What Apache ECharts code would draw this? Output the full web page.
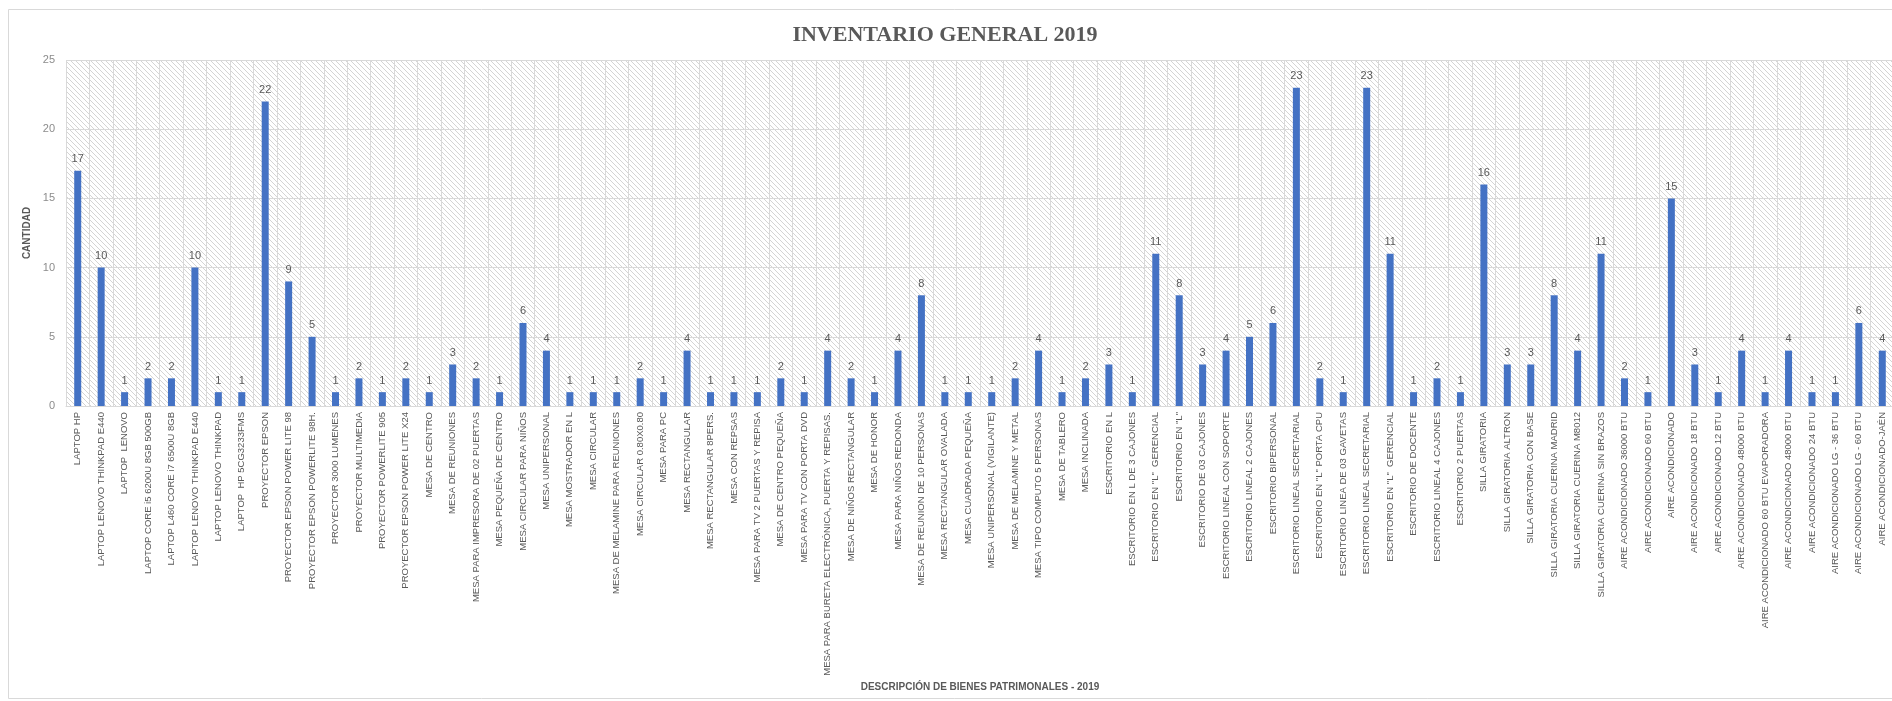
<!DOCTYPE html>
<html>
<head>
<meta charset="utf-8">
<script src="https://cdn.jsdelivr.net/npm/echarts@6/dist/echarts.min.js"></script>
<style>
  html, body { margin: 0; padding: 0; background: #ffffff; overflow: hidden; }
  #chart { width: 1900px; height: 701px; }
</style>
</head>
<body>
<div id="chart"></div>
<script>
const titleText = 'INVENTARIO GENERAL 2019';
const xAxisTitle = 'DESCRIPCIÓN DE BIENES PATRIMONALES - 2019';
const yAxisTitle = 'CANTIDAD';

const categories = [
  'LAPTOP HP',
  'LAPTOP LENOVO THINKPAD E440',
  'LAPTOP  LENOVO',
  'LAPTOP CORE i5 6200U 8GB 500GB',
  'LAPTOP L460 CORE i7 6500U 8GB',
  'LAPTOP LENOVO THINKPAD E440',
  'LAPTOP LENOVO THINKPAD',
  'LAPTOP  HP 5CG3233FMS',
  'PROYECTOR EPSON',
  'PROYECTOR EPSON POWER LITE 98',
  'PROYECTOR EPSON POWERLITE 98H.',
  'PROYECTOR 3000 LUMENES',
  'PROYECTOR MULTIMEDIA',
  'PROYECTOR POWERLITE 905',
  'PROYECTOR EPSON POWER LITE X24',
  'MESA DE CENTRO',
  'MESA DE REUNIONES',
  'MESA PARA IMPRESORA DE 02 PUERTAS',
  'MESA PEQUEÑA DE CENTRO',
  'MESA CIRCULAR PARA NIÑOS',
  'MESA UNIPERSONAL',
  'MESA MOSTRADOR EN L',
  'MESA CIRCULAR',
  'MESA DE MELAMINE PARA REUNIONES',
  'MESA CIRCULAR 0.80X0.80',
  'MESA PARA PC',
  'MESA RECTANGULAR',
  'MESA RECTANGULAR 8PERS.',
  'MESA CON REPSAS',
  'MESA PARA TV 2 PUERTAS Y REPISA',
  'MESA DE CENTRO PEQUEÑA',
  'MESA PARA TV CON PORTA DVD',
  'MESA PARA BURETA ELECTRÓNICA, PUERTA Y REPISAS.',
  'MESA DE NIÑOS RECTANGULAR',
  'MESA DE HONOR',
  'MESA PARA NIÑOS REDONDA',
  'MESA DE REUNION DE 10 PERSONAS',
  'MESA RECTANGULAR OVALADA',
  'MESA CUADRADA PEQUEÑA',
  'MESA UNIPERSONAL (VIGILANTE)',
  'MESA DE MELAMINE Y METAL',
  'MESA TIPO COMPUTO 5 PERSONAS',
  'MESA DE TABLERO',
  'MESA INCLINADA',
  'ESCRITORIO EN L',
  'ESCRITORIO EN L DE 3 CAJONES',
  'ESCRITORIO EN "L"  GERENCIAL',
  'ESCRITORIO EN "L"',
  'ESCRITORIO DE 03 CAJONES',
  'ESCRITORIO LINEAL CON SOPORTE',
  'ESCRITORIO LINEAL 2 CAJONES',
  'ESCRITORIO BIPERSONAL',
  'ESCRITORIO LINEAL SECRETARIAL',
  'ESCRITORIO EN "L" PORTA CPU',
  'ESCRITORIO LINEA DE 03 GAVETAS',
  'ESCRITORIO LINEAL SECRETARIAL',
  'ESCRITORIO EN "L"  GERENCIAL',
  'ESCRITORIO DE DOCENTE',
  'ESCRITORIO LINEAL 4 CAJONES',
  'ESCRITORIO 2 PUERTAS',
  'SILLA GIRATORIA',
  'SILLA GIRATORIA ALTRON',
  'SILLA GIRATORIA CON BASE',
  'SILLA GIRATORIA CUERINA MADRID',
  'SILLA GIRATORIA CUERINA M8012',
  'SILLA GIRATORIA CUERINA SIN BRAZOS',
  'AIRE ACONDICIONADO 36000 BTU',
  'AIRE ACONDICIONADO 60 BTU',
  'AIRE ACONDICIONADO',
  'AIRE ACONDICIONADO 18 BTU',
  'AIRE ACONDICIONADO 12 BTU',
  'AIRE ACONDICIONADO 48000 BTU',
  'AIRE ACONDICIONADO 60 BTU EVAPORADORA',
  'AIRE ACONDICIONADO 48000 BTU',
  'AIRE ACONDICIONADO 24 BTU',
  'AIRE ACONDICIONADO LG - 36 BTU',
  'AIRE ACONDICIONADO LG - 60 BTU',
  'AIRE ACONDICIONADO-JAÉN'
];

const cantidad = [
  17, 10, 1, 2, 2, 10, 1, 1, 22, 9,
  5, 1, 2, 1, 2, 1, 3, 2, 1, 6,
  4, 1, 1, 1, 2, 1, 4, 1, 1, 1,
  2, 1, 4, 2, 1, 4, 8, 1, 1, 1,
  2, 4, 1, 2, 3, 1, 11, 8, 3, 4,
  5, 6, 23, 2, 1, 23, 11, 1, 2, 1,
  16, 3, 3, 8, 4, 11, 2, 1, 15, 3,
  1, 4, 1, 4, 1, 1, 6, 4
];

const yTicks = [0, 5, 10, 15, 20, 25];

// hatched pattern for plot background
const pc = document.createElement('canvas');
pc.width = 5; pc.height = 5;
const pctx = pc.getContext('2d');
pctx.fillStyle = '#ffffff';
pctx.fillRect(0, 0, 5, 5);
pctx.strokeStyle = '#d4d4d4';
pctx.lineWidth = 1;
pctx.beginPath();
pctx.moveTo(-1, -1); pctx.lineTo(6, 6);
pctx.moveTo(-1, 4); pctx.lineTo(1, 6);
pctx.moveTo(4, -1); pctx.lineTo(6, 1);
pctx.stroke();

const chart = echarts.init(document.getElementById('chart'), null, { renderer: 'canvas' });
const labelFont = "'Liberation Sans', 'Open Sans', sans-serif";

chart.setOption({
  animation: false,
  backgroundColor: '#ffffff',
  title: {
    text: titleText,
    left: 940,
    textAlign: 'center',
    top: 19,
    textStyle: {
      fontFamily: "'Liberation Serif', serif",
      fontWeight: 'bold',
      fontSize: 22,
      color: '#595959'
    }
  },
  graphic: [{
    type: 'rect',
    shape: { x: 8.5, y: 9.5, width: 1900, height: 689 },
    style: { fill: 'none', stroke: '#d9d9d9', lineWidth: 1 },
    silent: true,
    z: -1
  }],
  grid: {
    left: 66,
    right: 6,
    top: 60,
    bottom: 295,
    show: true,
    borderWidth: 0,
    backgroundColor: { image: pc, repeat: 'repeat' }
  },
  xAxis: {
    type: 'category',
    data: categories,
    name: xAxisTitle,
    nameLocation: 'middle',
    nameGap: 276,
    nameTextStyle: {
      fontFamily: labelFont,
      fontWeight: 'bold',
      fontSize: 10,
      color: '#595959'
    },
    axisTick: { show: false },
    axisLine: { lineStyle: { color: '#d9d9d9' } },
    axisLabel: {
      interval: 0,
      rotate: 90,
      margin: 6,
      fontFamily: labelFont,
      fontSize: 9.5,
      color: '#595959'
    },
    splitLine: { show: true, interval: 0, lineStyle: { color: '#d9d9d9', width: 1 } }
  },
  yAxis: {
    type: 'value',
    min: yTicks[0],
    max: yTicks[yTicks.length - 1],
    interval: 5,
    name: yAxisTitle,
    nameLocation: 'middle',
    nameRotate: 90,
    nameGap: 24,
    nameTextStyle: {
      fontFamily: labelFont,
      fontWeight: 'bold',
      fontSize: 10,
      color: '#595959'
    },
    axisLine: { show: false },
    axisTick: { show: false },
    axisLabel: {
      margin: 11,
      fontFamily: labelFont,
      fontSize: 11,
      color: '#8c8c8c'
    },
    splitLine: { show: true, lineStyle: { color: '#d9d9d9', width: 1 } }
  },
  series: [{
    type: 'bar',
    data: cantidad,
    barWidth: 7,
    itemStyle: { color: '#4472C4' },
    label: {
      show: true,
      position: 'top',
      distance: 6,
      fontFamily: labelFont,
      fontSize: 11,
      color: '#595959'
    }
  }]
});
</script>
</body>
</html>
